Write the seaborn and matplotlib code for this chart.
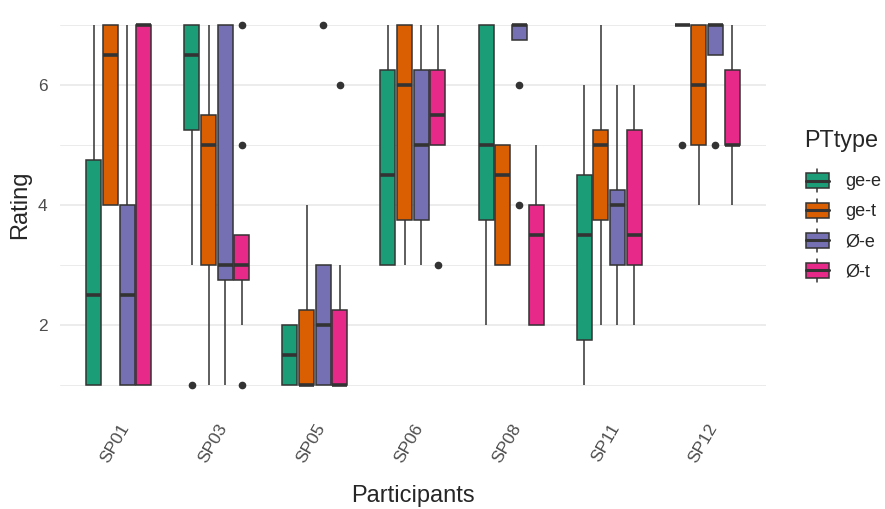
import pandas as pd
import matplotlib.pyplot as plt
import seaborn as sns
from matplotlib.patches import Patch, Rectangle
from matplotlib.lines import Line2D
from matplotlib.legend_handler import HandlerBase

# Ratings per participant, one list per PTtype (ge-e, ge-t, Ø-e, Ø-t)
participants = ["SP01", "SP03", "SP05", "SP06", "SP08", "SP11", "SP12"]
pttypes = ["ge-e", "ge-t", "Ø-e", "Ø-t"]
colors = ["#1B9E77", "#D95F02", "#7570B3", "#E7298A"]

sp01 = [[1, 1, 2.5, 4.75, 7], [4, 4, 6.5, 7, 7], [1, 1, 2.5, 4, 7], [1, 1, 7, 7, 7]]
sp03 = [[1, 3, 5.25, 6, 6.5, 7, 7, 7, 7], [1, 3, 5, 5.5, 7], [1, 2.75, 3, 7, 7],
        [1, 2, 2.75, 3, 3, 3, 3.5, 5, 7]]
sp05 = [[1, 1, 1.5, 2, 2], [1, 1, 1, 2.25, 4], [1, 1, 1, 1.5, 2, 2.5, 3, 3, 7],
        [1, 1, 1, 1, 1, 2, 2.25, 3, 6]]
sp06 = [[3, 3, 4.5, 6.25, 7], [3, 3.75, 6, 7, 7], [3, 3.75, 5, 6.25, 7],
        [3, 5, 5, 5, 5.5, 6, 6.25, 7, 7]]
sp08 = [[2, 3.75, 5, 7, 7], [3, 3, 4.5, 5, 5], [4, 6, 6.75, 7, 7, 7, 7, 7, 7],
        [2, 2, 3.5, 4, 5]]
sp11 = [[1, 1.75, 3.5, 4.5, 6], [2, 3.75, 5, 5.25, 7], [2, 3, 4, 4.25, 6],
        [2, 3, 3.5, 5.25, 6]]
sp12 = [[5, 7, 7, 7, 7], [4, 5, 6, 7, 7], [5, 6.5, 7, 7, 7], [4, 5, 5, 6.25, 7]]

rows = []
for sp, groups in zip(participants, [sp01, sp03, sp05, sp06, sp08, sp11, sp12]):
    for pt, vals in zip(pttypes, groups):
        for v in vals:
            rows.append({"Participants": sp, "PTtype": pt, "Rating": v})
df = pd.DataFrame(rows)

sns.set_style("white")
plt.rcParams["font.family"] = ["Liberation Sans", "DejaVu Sans"]

fig = plt.figure(figsize=(8.85, 5.09), dpi=100)
ax = fig.add_axes([0.0678, 0.2083, 0.7977, 0.7779])

# ggplot-like grid
ax.set_axisbelow(True)
ax.set_yticks([2, 4, 6])
ax.set_yticks([1, 3, 5, 7], minor=True)
ax.grid(True, which="major", color="#EBEBEB", linewidth=1.3)
ax.grid(True, which="minor", axis="y", color="#EBEBEB", linewidth=0.7)

sns.boxplot(data=df, x="Participants", y="Rating", hue="PTtype",
            order=participants, hue_order=pttypes, palette=colors,
            saturation=1, width=0.68, gap=0.1, linecolor="#333333",
            linewidth=1.1, showcaps=False, fliersize=4.5, legend=False,
            medianprops=dict(linewidth=2.6, color="#333333"),
            flierprops=dict(marker="o", markerfacecolor="#333333",
                            markeredgecolor="#333333"),
            ax=ax)

ax.set_xlim(-0.6, 6.6)
ax.set_ylim(0.7, 7.3)
for s in ax.spines.values():
    s.set_visible(False)
ax.tick_params(axis="both", length=0, labelsize=12.5, labelcolor="#4D4D4D")
ax.tick_params(axis="y", pad=9)
ax.tick_params(axis="x", pad=13)
plt.setp(ax.get_xticklabels(), rotation=60, ha="right", va="top",
         rotation_mode="anchor")
ax.set_xlabel("Participants", fontsize=17, labelpad=14)
ax.set_ylabel("Rating", fontsize=17, labelpad=5)


class BoxKey(HandlerBase):
    def create_artists(self, legend, orig_handle, xdescent, ydescent,
                       width, height, fontsize, trans):
        x0, y0 = -xdescent, -ydescent
        fc = orig_handle.get_facecolor()
        bh = height * 0.65
        by = y0 + (height - bh) / 2
        cx = x0 + width / 2
        arts = [
            Line2D([cx, cx], [y0, by], color="#333333", lw=1.1),
            Line2D([cx, cx], [by + bh, y0 + height], color="#333333", lw=1.1),
            Rectangle((x0, by), width, bh, facecolor=fc, edgecolor="#333333", lw=1.1),
            Line2D([x0, x0 + width], [by + bh / 2] * 2, color="#333333", lw=2.2),
        ]
        for a in arts:
            a.set_transform(trans)
        return arts


handles = [Patch(facecolor=c) for c in colors]
fig.text(0.9085, 1 - 141 / 509, "PTtype", fontsize=16.8, va="center", ha="left")
leg = fig.legend(handles, pttypes, handler_map={Patch: BoxKey()},
                 loc="upper left", bbox_to_anchor=(0.9105, 1 - 169 / 509),
                 frameon=False, fontsize=13, borderpad=0, borderaxespad=0,
                 handlelength=1.28, handleheight=1.59, labelspacing=0.38,
                 handletextpad=0.9)

fig.savefig("out.png", dpi=100)
